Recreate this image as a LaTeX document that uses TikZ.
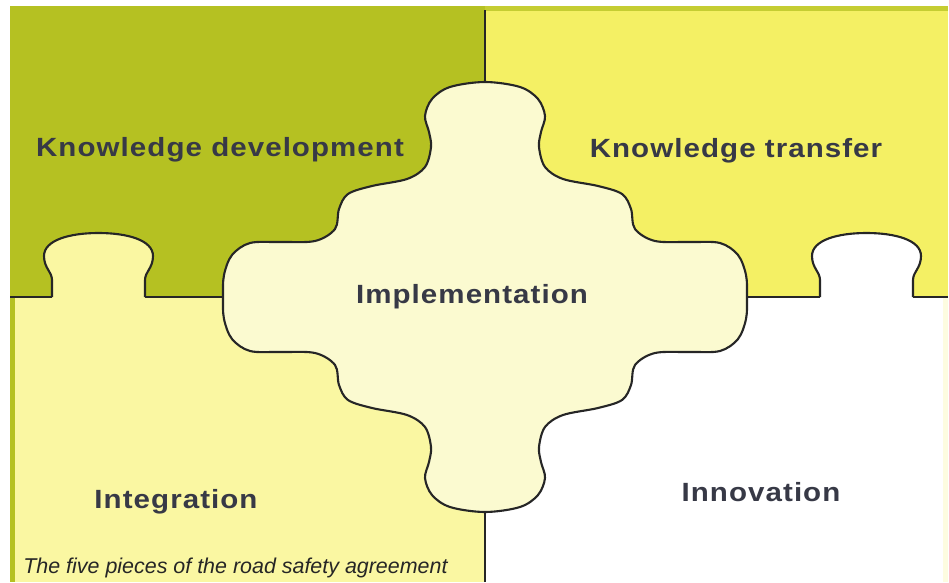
\documentclass[tikz,border=0pt]{standalone}
\usepackage{fontspec}
\usepackage{tikz}
\newfontfamily\piecefont[FakeStretch=1.12,LetterSpace=4]{Liberation Sans}
\newfontfamily\notefont{Liberation Sans}
\definecolor{olivepiece}{RGB}{181,193,34}
\definecolor{yellowpiece}{RGB}{244,240,100}
\definecolor{palepiece}{RGB}{250,247,162}
\definecolor{centrepiece}{RGB}{251,250,208}
\definecolor{ink}{RGB}{55,57,70}
\tikzset{seam/.style={line width=1.2pt,black!85},
  piecelabel/.style={anchor=base,text=ink,font=\piecefont\bfseries\fontsize{15}{18}\selectfont}}
\newcommand{\tabknob}[2]{\begin{scope}[shift={(#1,285)}]
  \filldraw[seam,fill=#2] (0,0) -- (0,17) .. controls (0,25) and (-8,29) .. (-8,41)
    .. controls (-8,57) and (18,64) .. (46.5,64) .. controls (75,64) and (101,57) .. (101,41)
    .. controls (101,29) and (93,25) .. (93,17) -- (93,0);\end{scope}}
\begin{document}
\begin{tikzpicture}[x=0.02cm,y=0.02cm]
\useasboundingbox (0,0) rectangle (949,582);
% four corner pieces
\fill[olivepiece] (10,285) rectangle (485,576);
\fill[yellowpiece] (485,285) rectangle (948,576);
\fill[palepiece] (10,0) rectangle (485,285);
\fill[white] (485,0) rectangle (948,285);
% edge strips
\fill[olivepiece!75!yellowpiece] (485,571) rectangle (948,576);
\fill[olivepiece] (10,0) rectangle (15,285);
\fill[yellowpiece!20] (943,0) rectangle (948,285);
% seams and the two tabs
\draw[seam] (10,285) -- (52,285) (145,285) -- (820,285) (913,285) -- (948,285);
\draw[seam] (485,0) -- (485,572);
\tabknob{52}{palepiece}\tabknob{820}{white}
% centre piece
\begin{scope}[shift={(485,285)}]
\filldraw[seam,fill=centrepiece] plot[smooth cycle,tension=0.55] coordinates {
  (0,215) (35,210) (53,198) (60,181) (56,165) (54,150) (60,130) (78,118)
  (113,111) (137,103) (146,88) (150,68) (170,56) (205,55) (235,54) (253,42) (261,22)
  (262,0)
  (261,-22) (253,-42) (235,-54) (205,-55) (170,-56) (150,-68) (146,-88) (137,-103)
  (113,-111) (78,-118) (60,-130) (54,-150) (56,-165) (60,-181) (53,-198) (35,-210)
  (0,-215)
  (-35,-210) (-53,-198) (-60,-181) (-56,-165) (-54,-150) (-60,-130) (-78,-118)
  (-113,-111) (-137,-103) (-146,-88) (-150,-68) (-170,-56) (-205,-55) (-235,-54)
  (-253,-42) (-261,-22)
  (-262,0)
  (-261,22) (-253,42) (-235,54) (-205,55) (-170,56) (-150,68) (-146,88) (-137,103)
  (-113,111) (-78,118) (-60,130) (-54,150) (-56,165) (-60,181) (-53,198) (-35,210)};
\end{scope}
% piece names
\node[piecelabel] (kdev) at (220,425) {Knowledge development};
\node[piecelabel] (ktra) at (736,424) {Knowledge transfer};
\node[piecelabel] (impl) at (472,279) {Implementation};
\node[piecelabel] (integ) at (176,74) {Integration};
\node[piecelabel] (innov) at (761,81) {Innovation};
\node[anchor=base west,inner sep=0pt,text=black!85,font=\notefont\itshape\fontsize{12.2}{14}\selectfont]
  (note) at (23,9) {The five pieces of the road safety agreement};
\end{tikzpicture}
\end{document}
